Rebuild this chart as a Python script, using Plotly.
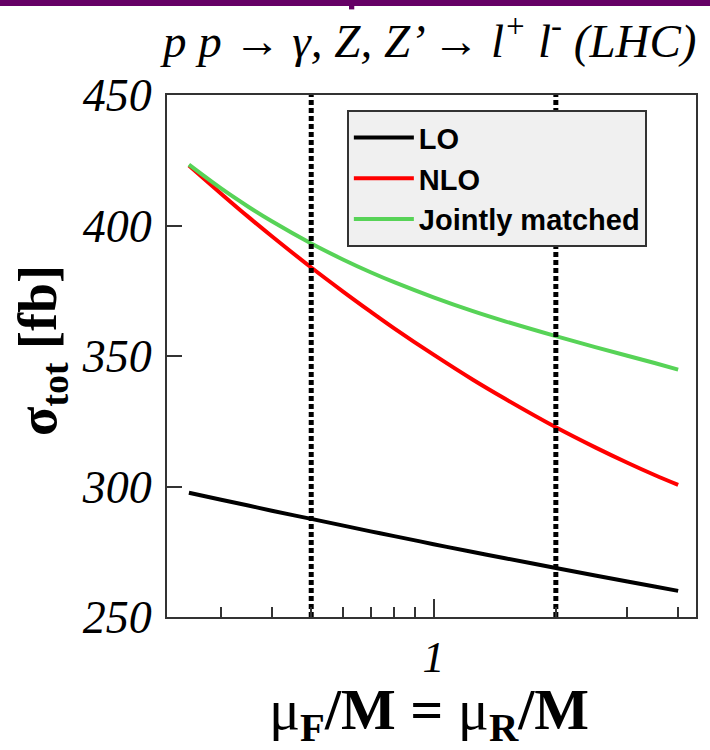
import plotly.graph_objects as go

# scale mu/M
scale = [0.25, 0.3, 0.35, 0.4, 0.5, 0.6, 0.7, 0.8, 1.0, 1.25, 1.5, 2.0, 2.5, 3.0, 3.5, 4.0]
sigma_lo = [297.6, 294.9, 292.7, 290.7, 287.6, 285.0, 282.8, 281.0, 277.9, 274.9, 272.5,
            268.8, 265.9, 263.6, 261.7, 260.0]
sigma_nlo = [423.0, 412.2, 403.3, 395.9, 383.9, 374.6, 367.0, 360.6, 350.5, 340.9, 333.6,
             322.7, 315.0, 309.1, 304.4, 300.6]
sigma_joint = [423.3, 414.2, 407.2, 401.6, 393.1, 386.9, 382.1, 378.3, 372.5, 367.2, 363.3,
               357.6, 353.4, 350.1, 347.3, 344.8]
marker_scales = [0.5, 2.0]
y_ticks = [250, 300, 350, 400, 450]
x_major = [1]
x_minor = [0.3, 0.4, 0.5, 0.6, 0.7, 0.8, 0.9, 2, 3, 4]

fig = go.Figure()
fig.add_trace(go.Scatter(x=scale, y=sigma_lo, mode="lines", name="LO",
                         line=dict(color="black", width=4, shape="spline")))
fig.add_trace(go.Scatter(x=scale, y=sigma_nlo, mode="lines", name="NLO",
                         line=dict(color="#ff0000", width=4, shape="spline")))
fig.add_trace(go.Scatter(x=scale, y=sigma_joint, mode="lines", name="Jointly matched",
                         line=dict(color="#57d357", width=4, shape="spline")))
for xs in marker_scales:
    fig.add_trace(go.Scatter(x=[xs, xs], y=[y_ticks[0], y_ticks[-1]], mode="lines",
                             showlegend=False, hoverinfo="skip",
                             line=dict(color="black", width=5, dash="5px,3px")))

serif = "Liberation Serif"
fig.update_layout(
    width=710, height=750,
    margin=dict(l=167, r=14, t=95, b=133),
    paper_bgcolor="white", plot_bgcolor="white",
    showlegend=True,
    legend=dict(x=0.34, y=0.971, xanchor="left", yanchor="top",
                bgcolor="#f0f0f0", bordercolor="#333333", borderwidth=2,
                font=dict(family="Liberation Sans", size=29, color="black", weight="bold"),
                itemwidth=60, tracegroupgap=0),
    xaxis=dict(type="log", range=[-0.656, 0.646], showgrid=False, zeroline=False,
               showline=True, linecolor="#333333", linewidth=2, mirror=True,
               tickmode="array", tickvals=x_major, ticktext=["1"],
               ticks="inside", ticklen=18, tickwidth=1.5, tickcolor="#333333",
               tickfont=dict(family=serif, size=44, color="black", style="italic"),
               ticklabelstandoff=0,
               minor=dict(tickmode="array", tickvals=x_minor, ticks="inside",
                          ticklen=10, tickwidth=1.5, tickcolor="#333333")),
    yaxis=dict(range=[250, 450], showgrid=False, zeroline=False,
               showline=True, linecolor="#333333", linewidth=2, mirror=True,
               tickmode="array", tickvals=y_ticks,
               ticks="inside", ticklen=15, tickwidth=1.5, tickcolor="#333333",
               tickfont=dict(family=serif, size=46, color="black", style="italic"),
               ticklabelstandoff=4),
    annotations=[
        dict(text="p p \u2192 \u03b3, Z, Z\u2019 \u2192 l<sup>+</sup> l<sup>-</sup> (LHC)",
             xref="paper", yref="paper", x=0.495, y=1.11, xanchor="center", yanchor="middle",
             showarrow=False, font=dict(family=serif, size=47, color="black", style="italic")),
        dict(text="<b>\u03c3<sub>tot</sub> [fb]</b>",
             xref="paper", yref="paper", x=-0.236, y=0.51, xanchor="center", yanchor="middle",
             textangle=-90, showarrow=False,
             font=dict(family=serif, size=54, color="black")),
        dict(text="\u03bc<sub><b>F</b></sub><b>/M = </b>\u03bc<sub><b>R</b></sub><b>/M</b>",
             xref="paper", yref="paper", x=0.495, y=-0.184, xanchor="center", yanchor="middle",
             showarrow=False, font=dict(family=serif, size=58, color="black")),
    ],
    shapes=[
        dict(type="rect", xref="paper", yref="paper", x0=-0.4, x1=1.1, y0=1.1705, y1=1.2,
             fillcolor="#660066", line=dict(width=0), layer="above"),
        dict(type="rect", xref="paper", yref="paper", x0=0.344, x1=0.354, y0=1.164, y1=1.172,
             fillcolor="#660066", line=dict(width=0), layer="above"),
    ],
)

fig.write_html("out.html")
